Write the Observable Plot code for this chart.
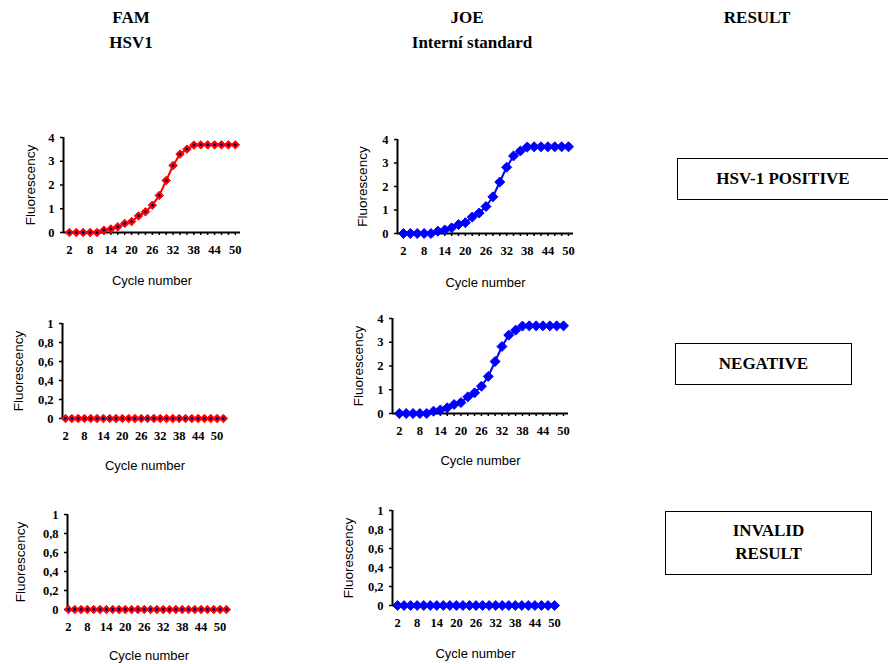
<!DOCTYPE html>
<html><head><meta charset="utf-8">
<script src="https://cdn.jsdelivr.net/npm/d3@7"></script>
<script src="https://cdn.jsdelivr.net/npm/@observablehq/plot@0.6"></script>
</head><body style="margin:0;width:888px;height:664px;position:relative;background:#fff;overflow:hidden;font-family:'Liberation Serif'">
<div id="root"></div>
<script>
const cycles = [2,4,6,8,10,12,14,16,18,20,22,24,26,28,30,32,34,36,38,40,42,44,46,48,50];
const negCycles = [2,4,6,8,10,12,14,16,18,20,22,24,26,28,30,32,34,36,38,40,42,44,46,48,50,52];
const famPositive = [0,0,0,0,0,0.1,0.15,0.24,0.38,0.46,0.7,0.87,1.15,1.56,2.19,2.82,3.3,3.51,3.68,3.69,3.69,3.69,3.69,3.69,3.69];
const joePositive = [0,0,0,0,0,0.1,0.15,0.24,0.38,0.46,0.7,0.87,1.15,1.56,2.19,2.82,3.3,3.51,3.68,3.69,3.69,3.69,3.69,3.69,3.69];
const famNegative = [0,0,0,0,0,0,0,0,0,0,0,0,0,0,0,0,0,0,0,0,0,0,0,0,0,0];
const famInvalid = [0,0,0,0,0,0,0,0,0,0,0,0,0,0,0,0,0,0,0,0,0,0,0,0,0,0];
const joeInvalid = [0,0,0,0,0,0,0,0,0,0,0,0,0,0,0,0,0,0,0,0,0,0,0,0,0];
const xTickLabels = [2,8,14,20,26,32,38,44,50];
const yTicks4 = [0,1,2,3,4];
const yTicks1 = [0,0.2,0.4,0.6,0.8,1];
const headers = [["FAM", 131, 9], ["HSV1", 131, 34], ["JOE", 467, 9], ["Interní standard", 472, 34], ["RESULT", 757, 9]];
const results = [["HSV-1 POSITIVE", 677, 158, 212, 42], ["NEGATIVE", 675, 343, 177, 42], ["INVALID<br>RESULT", 665, 511, 207, 64]];

const RED = "#ff0000", BLUE = "#0000ff", NAVY = "#000080";
const SERIF = "Liberation Serif";
const SANS = "Liberation Sans";
const root = document.getElementById("root");

for (const [t, x, y] of headers) {
  const d = document.createElement("div");
  d.textContent = t;
  Object.assign(d.style, {position: "absolute", left: x + "px", top: y + "px", transform: "translateX(-50%)", whiteSpace: "nowrap", fontFamily: SERIF, fontWeight: "bold", fontSize: "17px", lineHeight: "1"});
  root.appendChild(d);
}
for (const [t, x, y, w, h] of results) {
  const d = document.createElement("div");
  d.innerHTML = t;
  Object.assign(d.style, {position: "absolute", left: x + "px", top: y + "px", width: w + "px", height: h + "px", boxSizing: "border-box", border: "1px solid #000", display: "flex", alignItems: "center", justifyContent: "center", textAlign: "center", fontFamily: SERIF, fontWeight: "bold", fontSize: "17px", lineHeight: "1.35"});
  root.appendChild(d);
}

function chart(o) {
  const data = o.x.map((c, i) => ({c, v: o.y[i]}));
  const el = document.createElement("div");
  Object.assign(el.style, {position: "absolute", left: o.left + "px", top: o.top + "px"});
  const fmt = d => String(d).replace(".", ",");
  const svg = Plot.plot({
    width: o.w, height: o.h,
    marginLeft: o.ml, marginRight: o.mr, marginTop: o.mt, marginBottom: o.mb,
    x: {domain: o.xd},
    y: {domain: [0, o.ymax]},
    style: {background: "transparent", overflow: "visible", fontFamily: SERIF},
    marks: [
      Plot.axisY({ticks: o.yt, tickFormat: fmt, tickSize: 3, tickPadding: 6, fontFamily: SERIF, fontWeight: "bold", fontSize: 12.5, label: null, strokeWidth: 1.5}),
      Plot.axisX({ticks: o.x, tickFormat: d => xTickLabels.includes(d) ? String(d) : "", tickSize: 3, tickPadding: 10, fontFamily: SERIF, fontWeight: "bold", fontSize: 12.5, label: null, strokeWidth: 1.5}),
      Plot.ruleY([0], {stroke: "#000", strokeWidth: 2}),
      Plot.ruleX([o.xd[0]], {stroke: "#000", strokeWidth: 2}),
      Plot.line(data, {x: "c", y: "v", stroke: o.color, strokeWidth: 2}),
      Plot.dot(data, {x: "c", y: "v", symbol: "diamond2", r: o.r, fill: o.color, stroke: o.color, strokeWidth: 1}),
      o.center ? Plot.dot(data, {x: "c", y: "v", r: 1.4, fill: NAVY, stroke: "none"}) : null,
      Plot.text(["Cycle number"], {frameAnchor: "bottom", lineAnchor: "middle", textAnchor: "middle", dy: o.cy, fontSize: 13, fontFamily: SANS, fontWeight: "normal", fill: "#000"}),
      Plot.text(["Fluorescency"], {frameAnchor: "left", lineAnchor: "middle", textAnchor: "middle", dx: o.fx, rotate: -90, fontSize: 13.5, fontFamily: SANS, fontWeight: "normal", fill: "#000"})
    ]
  });
  el.appendChild(svg);
  root.appendChild(el);
}

chart({left: 0, top: 125, w: 260, h: 175, ml: 63, mr: 20, mt: 12, mb: 68, xd: [0.3, 51.5], x: cycles, y: famPositive, ymax: 4, yt: yTicks4, color: RED, center: true, r: 3.8, cy: 48, fx: -33});
chart({left: 334, top: 127, w: 260, h: 175, ml: 63, mr: 21, mt: 12, mb: 69, xd: [0.26, 51.45], x: cycles, y: joePositive, ymax: 4, yt: yTicks4, color: BLUE, center: false, r: 4.5, cy: 49, fx: -35});
chart({left: 0, top: 310, w: 250, h: 175, ml: 62, mr: 23, mt: 13, mb: 67, xd: [1.05, 53.3], x: negCycles, y: famNegative, ymax: 1, yt: yTicks1, color: RED, center: true, r: 3.8, cy: 47, fx: -44});
chart({left: 329, top: 305, w: 260, h: 175, ml: 63, mr: 21, mt: 13, mb: 67, xd: [0, 51.46], x: cycles, y: joePositive, ymax: 4, yt: yTicks4, color: BLUE, center: false, r: 4.5, cy: 47, fx: -34});
chart({left: 0, top: 500, w: 250, h: 164, ml: 67, mr: 20, mt: 14, mb: 55, xd: [1.7, 53.3], x: negCycles, y: famInvalid, ymax: 1, yt: yTicks1, color: RED, center: true, r: 3.8, cy: 46, fx: -47});
chart({left: 330, top: 497, w: 250, h: 167, ml: 62, mr: 22, mt: 13, mb: 59, xd: [0.47, 51.2], x: cycles, y: joeInvalid, ymax: 1, yt: yTicks1, color: BLUE, center: false, r: 4.4, cy: 48, fx: -44});
</script>
</body></html>
